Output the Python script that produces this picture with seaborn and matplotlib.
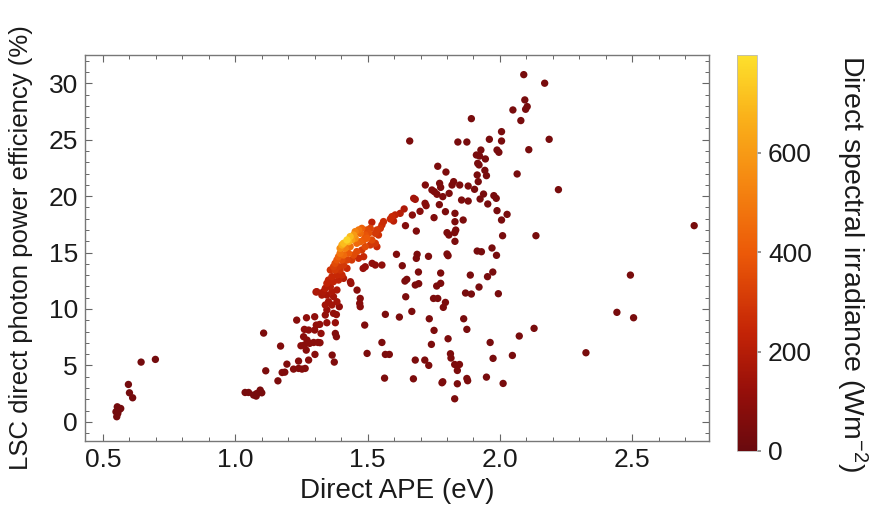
import numpy as np
import pandas as pd
import matplotlib
matplotlib.use("Agg")
import matplotlib.pyplot as plt
import seaborn as sns
from matplotlib.colors import LinearSegmentedColormap, Normalize
from matplotlib.cm import ScalarMappable
from matplotlib.ticker import MultipleLocator

# ---- data: main (high-irradiance) band ----
band_ape = [1.638, 1.623, 1.604, 1.592, 1.586, 1.598, 1.560, 1.554, 1.548, 1.516,
            1.535, 1.529, 1.541, 1.510, 1.497, 1.504, 1.491, 1.478, 1.466, 1.453,
            1.472, 1.447, 1.434, 1.422, 1.409, 1.403, 1.428, 1.440, 1.453, 1.396,
            1.415, 1.434, 1.459, 1.472, 1.485, 1.497, 1.516, 1.529, 1.535, 1.510,
            1.491, 1.478, 1.459, 1.447, 1.428, 1.409, 1.396, 1.390, 1.384, 1.403,
            1.422, 1.440, 1.466, 1.485, 1.377, 1.371, 1.390, 1.409, 1.396, 1.377,
            1.359, 1.422, 1.384, 1.403, 1.365, 1.352, 1.346, 1.371, 1.390, 1.409,
            1.359, 1.340, 1.333, 1.365, 1.384, 1.346, 1.371, 1.352, 1.340, 1.365,
            1.384, 1.308, 1.327, 1.346, 1.371, 1.340]
band_eff = [18.86, 18.47, 18.33, 18.18, 17.97, 17.79, 17.74, 17.44, 17.14, 17.68,
            17.00, 16.70, 16.55, 17.14, 17.00, 16.70, 16.55, 17.14, 17.00, 16.85,
            16.70, 16.55, 16.41, 16.11, 15.82, 15.67, 15.96, 16.11, 16.26, 15.37,
            15.37, 15.52, 15.82, 15.96, 16.11, 16.26, 16.11, 15.82, 15.52, 15.67,
            15.52, 15.22, 15.08, 14.78, 14.93, 14.78, 14.93, 14.63, 14.34, 14.34,
            14.34, 14.34, 14.49, 14.63, 14.04, 13.75, 13.75, 13.89, 13.45, 13.45,
            13.45, 13.60, 13.01, 13.01, 12.86, 12.56, 12.27, 12.42, 12.56, 12.71,
            11.97, 11.83, 11.53, 11.53, 11.68, 11.23, 11.09, 10.64, 10.35, 10.35,
            10.64, 11.53, 11.23, 9.91, 9.61, 9.46]
band_irr = [180, 200, 230, 250, 250, 220, 260, 260, 280, 220,
            300, 300, 280, 330, 350, 360, 380, 420, 480, 520,
            450, 600, 700, 760, 700, 650, 680, 620, 560, 560,
            520, 470, 450, 420, 400, 400, 350, 300, 250, 300,
            350, 300, 350, 350, 400, 450, 480, 420, 380, 350,
            330, 300, 250, 250, 350, 320, 300, 300, 280, 300,
            280, 250, 250, 250, 250, 230, 230, 230, 230, 200,
            200, 200, 180, 180, 180, 160, 160, 150, 150, 150,
            150, 180, 170, 120, 110, 110]

# ---- data: low-APE and mid scatter ----
low_ape = [0.552, 0.556, 0.562, 0.549, 0.554, 0.567, 0.596, 0.600, 0.612, 0.644,
           0.698, 1.037, 1.050, 1.069, 1.081, 1.094, 1.100, 1.079, 1.107, 1.115,
           1.161, 1.171, 1.177, 1.187, 1.195, 1.232, 1.220, 1.239, 1.252, 1.264,
           1.239, 1.269, 1.300, 1.261, 1.277, 1.300, 1.258, 1.271, 1.248, 1.261,
           1.281, 1.296, 1.312, 1.320, 1.268, 1.301, 1.277, 1.306, 1.319, 1.324,
           1.305, 1.330, 1.346, 1.378, 1.382, 1.393, 1.378, 1.382, 1.366, 1.374,
           1.435, 1.437, 1.460, 1.472, 1.470, 1.472, 1.489, 1.498, 1.483, 1.491,
           1.517, 1.529, 1.554]
low_eff = [0.45, 0.74, 1.09, 0.89, 1.33, 1.18, 3.31, 2.57, 2.13, 5.29,
           5.53, 2.60, 2.60, 2.37, 2.51, 2.81, 2.57, 2.28, 7.86, 4.52,
           3.63, 6.71, 4.37, 4.40, 5.11, 9.01, 4.67, 4.73, 4.67, 4.73,
           5.38, 9.22, 9.31, 8.19, 8.13, 8.13, 7.54, 7.24, 6.74, 6.80,
           6.95, 7.03, 7.03, 7.01, 6.35, 5.97, 5.47, 8.57, 8.63, 7.83,
           11.50, 11.44, 8.78, 8.78, 9.50, 10.20, 7.83, 7.54, 5.91, 5.29,
           12.41, 12.26, 11.67, 10.93, 10.49, 10.20, 8.57, 6.06, 13.59, 13.74,
           14.04, 13.89, 13.89]
low_irr = [30, 30, 30, 30, 30, 30, 30, 30, 30, 30,
           30, 40, 40, 40, 40, 40, 40, 40, 50, 50,
           50, 60, 60, 60, 60, 80, 70, 70, 70, 70,
           70, 100, 100, 100, 100, 100, 90, 90, 90, 90,
           90, 90, 90, 90, 80, 80, 80, 110, 110, 110,
           150, 150, 120, 120, 110, 100, 70, 70, 60, 60,
           130, 130, 80, 80, 80, 80, 60, 50, 120, 120,
           100, 100, 100]

# ---- data: high-APE scatter ----
high_ape = [2.090, 2.169, 2.094, 2.103, 2.097, 2.049, 2.079, 1.892, 2.006, 1.659,
            1.841, 1.875, 1.960, 2.006, 2.186, 2.109, 1.928, 1.989, 1.996, 1.911,
            1.923, 1.945, 1.916, 1.921, 1.943, 1.949, 1.914, 1.918, 2.065, 1.765,
            1.796, 2.221, 1.718, 1.743, 1.752, 1.762, 1.772, 1.776, 1.784, 1.808,
            1.819, 1.825, 1.848, 1.880, 1.904, 1.855, 1.880, 1.925, 1.938, 1.954,
            1.977, 1.986, 1.989, 2.027, 2.006, 2.010, 2.136, 2.734, 1.771, 1.794,
            1.830, 1.830, 1.861, 1.833, 1.829, 1.800, 1.807, 1.830, 1.751, 1.717,
            1.721, 1.698, 1.669, 1.674, 1.680, 1.643, 1.684, 1.609, 1.687, 1.684,
            1.730, 1.800, 1.804, 1.914, 1.930, 1.970, 1.987, 1.631, 1.692, 1.776,
            1.888, 1.973, 1.953, 1.641, 1.648, 1.680, 1.693, 1.761, 1.776, 1.921,
            1.644, 1.749, 1.765, 1.794, 1.786, 1.870, 1.892, 1.994, 1.567, 1.620,
            1.667, 1.733, 1.863, 1.751, 1.875, 2.129, 2.073, 2.442, 2.493, 2.505,
            2.325, 1.554, 1.741, 1.804, 1.963, 1.567, 1.582, 1.680, 1.716, 1.731,
            1.813, 1.815, 1.829, 1.847, 1.839, 1.974, 2.047, 1.564, 1.673, 1.781,
            1.784, 1.839, 1.875, 1.878, 1.949, 2.012, 1.829]
high_eff = [30.76, 30.00, 28.52, 27.93, 27.69, 27.63, 26.69, 26.86, 25.71, 24.88,
            24.79, 24.79, 25.03, 24.88, 25.03, 24.11, 24.08, 24.08, 23.88, 23.64,
            23.55, 23.29, 22.90, 22.76, 22.28, 21.81, 21.87, 21.28, 21.96, 22.64,
            22.13, 20.57, 20.98, 20.54, 20.39, 20.16, 21.13, 20.77, 19.95, 20.24,
            20.98, 21.28, 20.98, 20.89, 20.60, 19.65, 19.56, 19.74, 20.18, 19.30,
            20.04, 19.80, 18.71, 18.38, 17.88, 16.49, 16.49, 17.38, 19.24, 18.62,
            18.47, 17.73, 17.88, 16.99, 16.76, 16.76, 16.55, 15.99, 18.09, 19.36,
            19.15, 18.65, 18.32, 19.80, 19.71, 17.38, 16.90, 14.84, 14.84, 14.48,
            14.66, 14.87, 14.72, 15.13, 15.07, 15.40, 14.75, 13.83, 13.27, 13.18,
            13.00, 13.27, 12.86, 12.47, 12.62, 12.12, 12.24, 12.03, 12.27, 11.94,
            11.08, 10.93, 10.93, 10.58, 10.14, 11.41, 11.32, 11.35, 9.52, 9.28,
            9.78, 9.13, 9.13, 8.10, 8.19, 8.28, 7.60, 9.70, 13.00, 9.22,
            6.12, 7.03, 6.86, 7.36, 7.03, 5.97, 5.97, 5.47, 5.47, 5.00,
            6.03, 5.65, 5.08, 5.08, 4.55, 5.62, 5.88, 3.87, 3.81, 3.46,
            3.55, 3.37, 3.84, 3.64, 3.96, 3.40, 2.04]
high_irr = [40, 40, 40, 40, 40, 40, 40, 40, 40, 50,
            40, 40, 40, 40, 40, 40, 40, 40, 40, 40,
            40, 40, 40, 40, 40, 40, 40, 40, 40, 50,
            50, 40, 60, 60, 60, 60, 50, 50, 50, 50,
            50, 50, 50, 50, 40, 50, 50, 40, 40, 40,
            40, 40, 40, 40, 40, 40, 40, 40, 50, 50,
            50, 50, 50, 50, 50, 50, 50, 50, 60, 80,
            80, 80, 90, 150, 150, 70, 60, 60, 50, 50,
            50, 50, 50, 40, 40, 40, 40, 50, 50, 50,
            40, 40, 40, 50, 50, 50, 50, 50, 50, 40,
            50, 50, 50, 50, 50, 40, 40, 40, 50, 50,
            50, 50, 40, 50, 40, 40, 40, 40, 40, 40,
            40, 50, 50, 50, 40, 50, 50, 50, 50, 50,
            50, 50, 50, 50, 50, 40, 40, 50, 50, 50,
            50, 50, 50, 50, 40, 40, 50]

x_ticks = [0.5, 1.0, 1.5, 2.0, 2.5]
y_ticks = [0, 5, 10, 15, 20, 25, 30]
cbar_ticks = [0, 200, 400, 600]

df = pd.DataFrame({
    "ape": band_ape + low_ape + high_ape,
    "eff": band_eff + low_eff + high_eff,
    "irr": band_irr + low_irr + high_irr,
}).sort_values("irr")

# ---- style ----
sns.set_theme(style="white")
plt.rcParams["font.family"] = ["Liberation Sans", "DejaVu Sans"]
plt.rcParams["mathtext.fontset"] = "custom"
plt.rcParams["mathtext.rm"] = "Liberation Sans"
plt.rcParams["mathtext.default"] = "regular"

cmap = LinearSegmentedColormap.from_list("solar", [
    (0.00, "#6a0a0e"), (0.15, "#960f0a"), (0.30, "#c42406"),
    (0.50, "#ec5a08"), (0.70, "#f68c12"), (0.85, "#fab31a"), (1.00, "#fde02c")])
norm = Normalize(0, 797)

FS = 19
fig = plt.figure(figsize=(8.69, 5.17), dpi=100)
ax = fig.add_axes([85/869, 1-441/517, 624/869, 386/517])

sns.scatterplot(data=df, x="ape", y="eff", hue="irr", palette=cmap, hue_norm=norm,
                s=28, linewidth=0, legend=False, ax=ax)

ax.set_xlim(0.432, 2.79)
ax.set_ylim(-1.7, 32.5)
ax.set_xticks(x_ticks)
ax.set_xticklabels([f"{v:.1f}" for v in x_ticks])
ax.set_yticks(y_ticks)
ax.xaxis.set_minor_locator(MultipleLocator(0.1))
ax.yaxis.set_minor_locator(MultipleLocator(1))
ax.tick_params(which="both", direction="in", top=True, right=True, bottom=True, left=True,
               color="#666666", labelsize=FS, labelcolor="#1a1a1a")
ax.tick_params(which="major", length=5, width=0.8, pad=5)
ax.tick_params(which="minor", length=3, width=0.7)
for sp in ax.spines.values():
    sp.set_color("#777777")
    sp.set_linewidth(1.0)
ax.set_xlabel("Direct APE (eV)", fontsize=20, color="#1a1a1a", labelpad=4)
ax.set_ylabel("LSC direct photon power efficiency (%)", fontsize=18.5, color="#1a1a1a",
              labelpad=11)

cax = fig.add_axes([737/869, 1-451/517, 20/869, 396/517])
sm = ScalarMappable(norm=norm, cmap=cmap)
cb = fig.colorbar(sm, cax=cax, ticks=cbar_ticks)
cb.outline.set_edgecolor("#bbbbbb")
cb.outline.set_linewidth(0.6)
cax.tick_params(labelsize=FS, length=3, color="#888888", labelcolor="#1a1a1a", pad=5,
                right=True)
cb.set_label("Direct spectral irradiance (Wm$^{-2}$)", rotation=-90, fontsize=20.5,
             color="#1a1a1a")
cax.yaxis.set_label_coords(6.6, 0.475)

fig.savefig("out.png", dpi=100, facecolor="white")
